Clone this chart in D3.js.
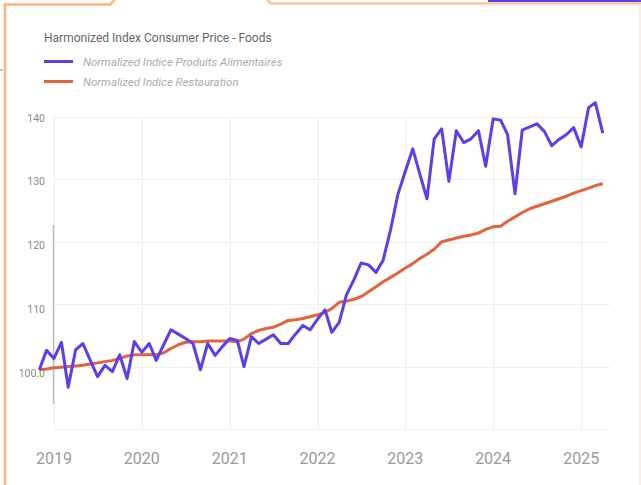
<!DOCTYPE html>
<html>
<head>
<meta charset="utf-8">
<script src="https://cdn.jsdelivr.net/npm/d3@7"></script>
<style>
  html, body { margin: 0; padding: 0; background: #fff; }
  svg { display: block; font-family: Roboto, "Liberation Sans", sans-serif; }
</style>
</head>
<body>
<script>
// data: monthly, first month Nov 2018
var START_MONTH = '2018-11-01';

var alimentaires = [
  99.5, 102.6, 101.3, 103.9, 96.7, 102.7, 103.7, 101.0, 98.4, 100.2,
  99.2, 101.9, 98.1, 104.0, 102.3, 103.7, 101.0, 103.5, 105.9, 105.2,
  104.5, 103.7, 99.5, 103.7, 101.8, 103.2, 104.5, 104.2, 100.0, 104.8,
  103.7, 104.4, 105.1, 103.7, 103.7, 105.2, 106.6, 105.9, 107.6, 109.1,
  105.5, 107.1, 111.5, 113.9, 116.6, 116.3, 115.1, 117.1, 122.0, 127.6,
  131.3, 134.9, 131.0, 126.9, 136.5, 138.1, 129.7, 137.8, 135.9, 136.5,
  137.8, 132.1, 139.7, 139.5, 137.2, 127.7, 137.9, 138.4, 138.9, 137.7,
  135.4, 136.4, 137.2, 138.3, 135.2, 141.5, 142.3, 137.4
];

var restauration = [
  99.5, 99.6, 99.8, 99.9, 100.0, 100.1, 100.2, 100.4, 100.6, 100.8,
  101.0, 101.3, 101.7, 101.9, 101.9, 101.9, 101.9, 102.2, 102.9, 103.5,
  103.9, 104.0, 104.0, 104.1, 104.1, 104.1, 104.1, 104.0, 104.4, 105.3,
  105.8, 106.1, 106.3, 106.8, 107.4, 107.5, 107.7, 108.0, 108.3, 108.7,
  109.3, 110.3, 110.5, 110.8, 111.2, 112.0, 112.8, 113.6, 114.3, 115.0,
  115.8, 116.5, 117.3, 118.0, 118.8, 120.0, 120.3, 120.6, 120.9, 121.1,
  121.4, 122.0, 122.4, 122.5, 123.3, 124.0, 124.7, 125.3, 125.7, 126.1,
  126.5, 126.9, 127.3, 127.8, 128.2, 128.6, 129.0, 129.3
];

var yearTicks = [2019, 2020, 2021, 2022, 2023, 2024, 2025];
var valueTicks = [100, 110, 120, 130, 140];
var valueLabels = ['100.0', '110', '120', '130', '140'];

var seriesNames = ['Normalized Indice Produits Alimentaires', 'Normalized Indice Restauration'];

var TITLE = 'Harmonized Index Consumer Price - Foods';

var WIDTH = 641;
var HEIGHT = 485;
var COLOR_ALIM = '#5a3ff0';
var COLOR_REST = '#e3643b';
var COLOR_FRAME = '#ffb47c';
var COLOR_GRID = '#efefef';

var g_svg;

function draw() {
    var parse = d3.timeParse('%Y-%m-%d');
    var start = parse(START_MONTH);

    var x = d3.scaleTime()
        .domain([new Date(2019, 0, 1), new Date(2025, 4, 1)])
        .range([54, 610]);
    var y = d3.scaleLinear()
        .domain([90, 140])
        .range([429, 117]);
    // labels sit a bit lower than their grid lines in the original
    var yLabel = d3.scaleLinear()
        .domain([100, 140])
        .range([373, 118]);

    g_svg = d3.select('body')
        .append('svg')
            .attr('width', WIDTH)
            .attr('height', HEIGHT);

    // outer frame bits (screenshot border)
    g_svg.append('path')
        .attr('d', 'M5,485 L5,4.5 L110,4.5 L114.5,0')
        .attr('fill', 'none')
        .attr('stroke', COLOR_FRAME)
        .attr('stroke-width', 2.5);
    g_svg.append('path')
        .attr('d', 'M267,0 L271,3.5 L641,3.5')
        .attr('fill', 'none')
        .attr('stroke', COLOR_FRAME)
        .attr('stroke-width', 2.5)
        .attr('opacity', 0.8);
    g_svg.append('rect')
        .attr('x', 488).attr('y', 0)
        .attr('width', 153).attr('height', 2)
        .attr('fill', COLOR_ALIM);
    g_svg.append('line')
        .attr('x1', 640).attr('x2', 640)
        .attr('y1', 4).attr('y2', 485)
        .attr('stroke', '#fde6d8')
        .attr('stroke-width', 1.5);
    g_svg.append('line')
        .attr('x1', 0).attr('x2', 3)
        .attr('y1', 70).attr('y2', 70)
        .attr('stroke', '#999')
        .attr('stroke-width', 1.2);

    // grid
    var grid = g_svg.append('g');
    grid.selectAll('line.h')
        .data([90].concat(valueTicks))
        .enter()
        .append('line')
            .attr('x1', 54).attr('x2', 610)
            .attr('y1', function (d) { return Math.round(y(d)) + 0.5; })
            .attr('y2', function (d) { return Math.round(y(d)) + 0.5; })
            .attr('stroke', COLOR_GRID);
    grid.selectAll('line.v')
        .data(yearTicks)
        .enter()
        .append('line')
            .attr('x1', function (d) { return Math.round(x(new Date(d, 0, 1))) + 0.5; })
            .attr('x2', function (d) { return Math.round(x(new Date(d, 0, 1))) + 0.5; })
            .attr('y1', 117).attr('y2', 429)
            .attr('stroke', COLOR_GRID);

    // odd grey bar on the left axis
    g_svg.append('line')
        .attr('x1', 53.5).attr('x2', 53.5)
        .attr('y1', 225).attr('y2', 404)
        .attr('stroke', '#bdbdbd')
        .attr('stroke-width', 1.5);

    // y labels
    g_svg.selectAll('text.ylab')
        .data(valueTicks)
        .enter()
        .append('text')
            .attr('x', 45)
            .attr('y', function (d) { return yLabel(d); })
            .attr('dy', '0.35em')
            .attr('text-anchor', 'end')
            .attr('font-size', 10.5)
            .attr('fill', '#8a8a8a')
            .text(function (d, i) { return valueLabels[i]; });

    // x labels
    g_svg.selectAll('text.xlab')
        .data(yearTicks)
        .enter()
        .append('text')
            .attr('x', function (d) { return x(new Date(d, 0, 1)); })
            .attr('y', 464)
            .attr('text-anchor', 'middle')
            .attr('font-size', 16)
            .attr('fill', '#9a9a9a')
            .text(function (d) { return d; });

    // lines
    var line = d3.line()
        .x(function (d, i) { return x(d3.timeMonth.offset(start, i)); })
        .y(function (d) { return y(d); });

    g_svg.append('path')
        .datum(restauration)
        .attr('d', line)
        .attr('fill', 'none')
        .attr('stroke', COLOR_REST)
        .attr('stroke-width', 3)
        .attr('stroke-linejoin', 'round');

    g_svg.append('path')
        .datum(alimentaires)
        .attr('d', line)
        .attr('fill', 'none')
        .attr('stroke', COLOR_ALIM)
        .attr('stroke-width', 3)
        .attr('stroke-linejoin', 'round');

    // title + legend
    g_svg.append('text')
        .attr('x', 44)
        .attr('y', 42)
        .attr('font-size', 12)
        .attr('fill', '#666')
        .text(TITLE);

    var legend = g_svg.selectAll('g.legend')
        .data(seriesNames)
        .enter()
        .append('g')
            .attr('transform', function (d, i) { return 'translate(44,' + (61.5 + i * 20) + ')'; });
    legend.append('line')
        .attr('x1', 0).attr('x2', 29)
        .attr('stroke', function (d, i) { return i == 0 ? COLOR_ALIM : COLOR_REST; })
        .attr('stroke-width', 3);
    legend.append('text')
        .attr('x', 39)
        .attr('y', 4.5)
        .attr('font-size', 11.5)
        .attr('font-style', 'italic')
        .attr('fill', '#ababab')
        .text(function (d) { return d; });
}

draw();
</script>
</body>
</html>
